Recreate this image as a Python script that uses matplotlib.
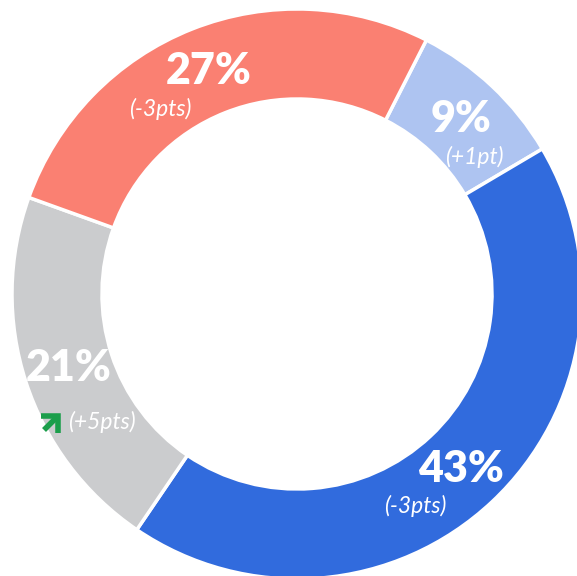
import numpy as np
import matplotlib.pyplot as plt

# wedges clockwise starting from the light blue one
labels = ["9%", "43%", "21%", "27%"]
shares = [9, 43, 21, 27]
changes = ["(+1pt)", "(-3pts)", "(+5pts)", "(-3pts)"]
colors = ["#AEC4F1", "#316BDD", "#CBCCCE", "#FA8072"]

# offsets (px) of the change label from the share label
sub_dx = [13, -46, 33, -48]
sub_dy = [-38, -37, -54, -38]

plt.rcParams['font.family'] = ['Lato', 'DejaVu Sans']

fig = plt.figure(figsize=(5.77, 5.76), dpi=100)
ax = fig.add_axes([0, 0, 1, 1])

cx, cy = 297, 282
r_out, r_in = 285, 195

wedges, _ = ax.pie(shares, colors=colors, startangle=63, counterclock=False,
                   center=(cx, cy), radius=r_out, frame=True,
                   wedgeprops=dict(width=r_out - r_in, edgecolor='white', linewidth=2.5))
ax.set_xlim(0, 577)
ax.set_ylim(0, 576)
ax.set_aspect('equal')
ax.axis('off')

r_mid = (r_out + r_in) / 2
for w, lab, chg, dx, dy in zip(wedges, labels, changes, sub_dx, sub_dy):
    ang = np.deg2rad((w.theta1 + w.theta2) / 2)
    x = cx + r_mid * np.cos(ang)
    y = cy + r_mid * np.sin(ang)
    ax.text(x, y, lab, ha='center', va='center', color='white',
            fontsize=31, fontweight='heavy')
    ax.text(x + dx, y + dy, chg, ha='center', va='center', color='white',
            fontsize=16.5, fontstyle='italic', fontweight='normal')

# green "up" arrow next to the gray segment change
ax.annotate('', xy=(61, 576 - 413), xytext=(44, 576 - 430),
            arrowprops=dict(arrowstyle='->,head_length=0.5,head_width=0.5',
                            color='#1B9E4B', lw=4,
                            mutation_scale=18, shrinkA=0, shrinkB=0,
                            joinstyle='miter', capstyle='butt'))

fig.savefig('out.png', dpi=100)
